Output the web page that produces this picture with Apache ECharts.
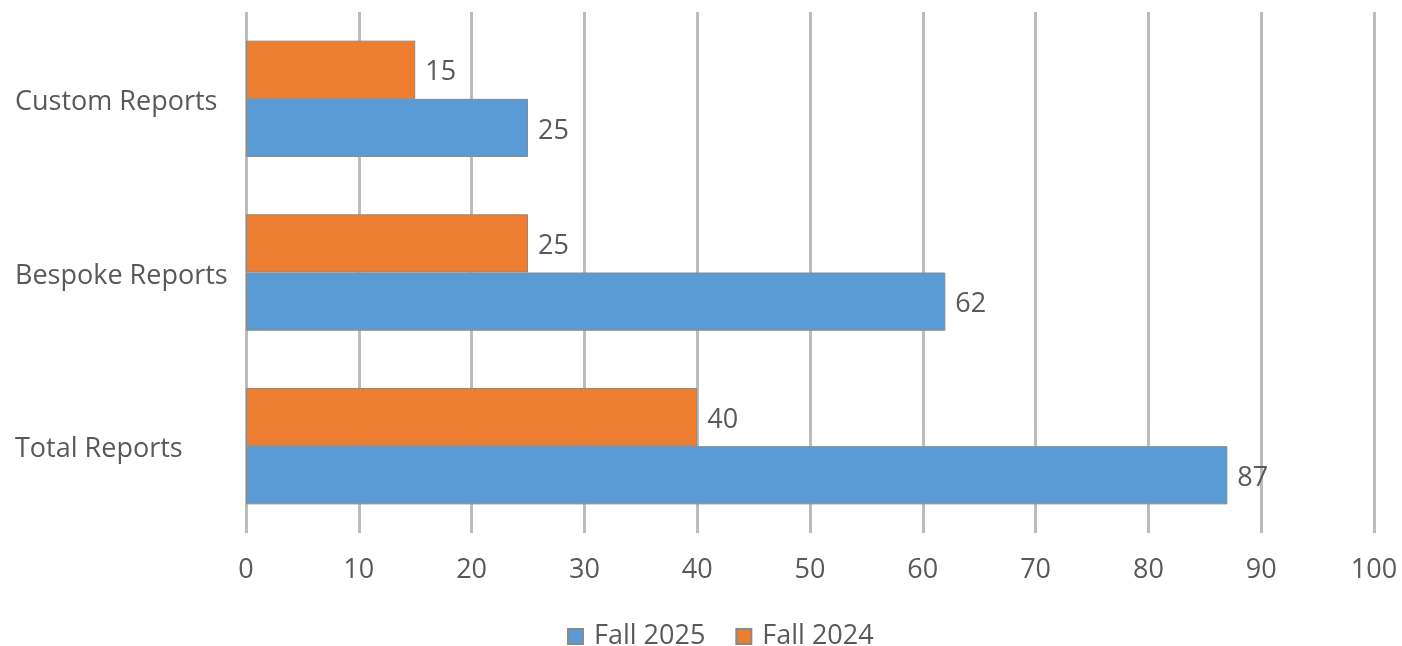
<!DOCTYPE html>
<html>
<head>
<meta charset="utf-8">
<script src="https://cdn.jsdelivr.net/npm/echarts@6/dist/echarts.min.js"></script>
<style>
html,body{margin:0;padding:0;background:#fff;}
#c{width:1402px;height:646px;}
</style>
</head>
<body>
<div id="c"></div>
<script>
const categories = ['Total Reports', 'Bespoke Reports', 'Custom Reports'];
const fall2025 = [87, 62, 25];
const fall2024 = [40, 25, 15];
const seriesNames = ['Fall 2025', 'Fall 2024'];

const font = '"Open Sans", "Noto Sans", sans-serif';
const textColor = '#595959';
const fs = 27;

const chart = echarts.init(document.getElementById('c'), null, {renderer: 'canvas'});
chart.setOption({
  animation: false,
  backgroundColor: '#ffffff',
  textStyle: {fontFamily: font},
  grid: {left: 246, right: 28, top: 12, bottom: 113, containLabel: false},
  legend: {
    data: seriesNames,
    top: 618,
    left: 562,
    itemWidth: 15,
    itemHeight: 15,
    itemGap: 30,
    icon: 'rect',
    textStyle: {fontSize: fs, color: textColor, fontFamily: font, padding: [0, 0, 0, 6]}
  },
  xAxis: {
    type: 'value',
    min: 0,
    max: 100,
    interval: 10,
    axisLine: {show: false},
    axisTick: {show: false},
    splitLine: {show: true, lineStyle: {color: '#bcbcbc', width: 3}},
    axisLabel: {fontSize: fs, color: textColor, margin: 24, fontFamily: font}
  },
  yAxis: {
    type: 'category',
    data: categories,
    axisLine: {show: false},
    axisTick: {show: false},
    axisLabel: {
      align: 'left', margin: 231,
      formatter: '{a|{value}}',
      rich: {a: {fontSize: fs, color: textColor, fontFamily: font, padding: [7, 0, 0, 0]}}
    }
  },
  series: [
    {
      name: seriesNames[1],
      type: 'bar',
      data: fall2024,
      barGap: '0%',
      barCategoryGap: '33%',
      itemStyle: {color: '#ed7d31', borderColor: '#8a8a8a', borderWidth: 1},
      label: {show: true, position: 'right', distance: 10, offset: [0, 3], fontSize: fs, color: textColor, fontFamily: font}
    },
    {
      name: seriesNames[0],
      type: 'bar',
      data: fall2025,
      barGap: '0%',
      barCategoryGap: '33%',
      itemStyle: {color: '#5b9bd5', borderColor: '#8a8a8a', borderWidth: 1},
      label: {show: true, position: 'right', distance: 10, offset: [0, 3], fontSize: fs, color: textColor, fontFamily: font}
    }
  ]
});
</script>
</body>
</html>
